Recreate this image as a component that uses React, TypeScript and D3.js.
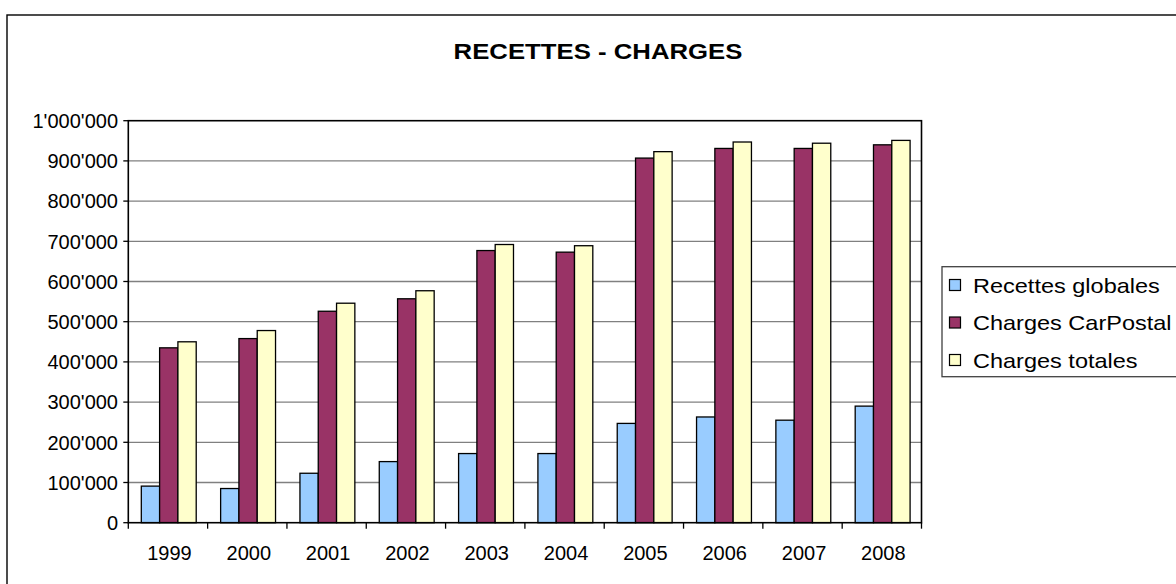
import React from 'react';
import * as d3 from 'd3';

const years = ['1999', '2000', '2001', '2002', '2003', '2004', '2005', '2006', '2007', '2008'];
const seriesNames = ['Recettes globales', 'Charges CarPostal', 'Charges totales'];
const seriesColors = ['#99CCFF', '#993366', '#FFFFCC'];

const recettesGlobales = [91000, 85000, 123000, 152000, 172000, 172000, 247000, 263000, 255000, 290000];
const chargesCarPostal = [435000, 458000, 526000, 557000, 677000, 673000, 907000, 931000, 931000, 940000];
const chargesTotales = [450000, 478000, 546000, 577000, 692000, 689000, 923000, 947000, 944000, 951000];

const yTicks = [0, 100000, 200000, 300000, 400000, 500000, 600000, 700000, 800000, 900000, 1000000];

const W = 1176;
const H = 584;
const plot = { left: 128.3, right: 921.5, top: 120.7, bottom: 522.7 };
const FONT = 'Liberation Sans, Arial, sans-serif';

// Swiss thousands separator: 1'000'000
const fmt = (v: number) => d3.format(',')(v).replace(/,/g, "'");

export default function App() {
  const values = [recettesGlobales, chargesCarPostal, chargesTotales];

  const x0 = d3.scaleBand<string>().domain(years).range([plot.left, plot.right]).padding(0);
  const barW = 18.3;
  const gap = x0.bandwidth() - barW * seriesNames.length;
  const x1 = d3
    .scaleBand<string>()
    .domain(seriesNames)
    .range([gap / 2 + 0.8, x0.bandwidth() - gap / 2 + 0.8])
    .padding(0);
  const y = d3.scaleLinear().domain([0, 1000000]).range([plot.bottom, plot.top]);

  const boundaries = d3.range(years.length + 1).map(i => plot.left + i * x0.bandwidth());

  return (
    <div style={{ position: 'absolute', left: 0, top: 0 }}>
      <svg width={W} height={H} style={{ display: 'block', background: '#fff' }}>
        {/* outer chart frame */}
        <rect x={7} y={15} width={W + 20} height={H + 20} fill="#fff" stroke="#000" strokeWidth={1.4} />

        {/* title */}
        <text
          transform={`translate(598,58.5) scale(1.17,1)`}
          textAnchor="middle"
          fontFamily={FONT}
          fontWeight="bold"
          fontSize={22}
          fill="#000"
        >
          RECETTES - CHARGES
        </text>

        {/* gridlines */}
        {yTicks.slice(1, -1).map(t => (
          <line key={t} x1={plot.left} x2={plot.right} y1={y(t)} y2={y(t)} stroke="#808080" strokeWidth={1.3} />
        ))}

        {/* bars */}
        {years.map((yr, i) => (
          <g key={yr} transform={`translate(${x0(yr)},0)`}>
            {seriesNames.map((s, j) => (
              <rect
                key={s}
                x={x1(s)}
                y={y(values[j][i])}
                width={x1.bandwidth()}
                height={y(0) - y(values[j][i])}
                fill={seriesColors[j]}
                stroke="#000"
                strokeWidth={1.3}
              />
            ))}
          </g>
        ))}

        {/* plot border */}
        <rect
          x={plot.left}
          y={plot.top}
          width={plot.right - plot.left}
          height={plot.bottom - plot.top}
          fill="none"
          stroke="#000"
          strokeWidth={1.6}
        />

        {/* y axis ticks and labels */}
        {yTicks.map(t => (
          <g key={t}>
            <line x1={plot.left - 5} x2={plot.left} y1={y(t)} y2={y(t)} stroke="#000" strokeWidth={1.3} />
            <text
              x={118}
              y={y(t)}
              dy="0.36em"
              textAnchor="end"
              fontFamily={FONT}
              fontSize={20}
              fill="#000"
            >
              {fmt(t)}
            </text>
          </g>
        ))}

        {/* x axis ticks and labels */}
        {boundaries.map((b, i) => (
          <line key={i} x1={b} x2={b} y1={plot.bottom} y2={plot.bottom + 6} stroke="#000" strokeWidth={1.3} />
        ))}
        {years.map(yr => (
          <text
            key={yr}
            x={(x0(yr) as number) + x0.bandwidth() / 2 + 1.5}
            y={560}
            textAnchor="middle"
            fontFamily={FONT}
            fontSize={20}
            fill="#000"
          >
            {yr}
          </text>
        ))}

        {/* legend */}
        <g>
          <rect x={942} y={266.7} width={260} height={110} fill="#fff" stroke="#404040" strokeWidth={1.3} />
          {seriesNames.map((s, j) => {
            const cy = 285 + j * 37.5;
            return (
              <g key={s}>
                <rect x={949.5} y={cy - 5.5} width={11} height={11} fill={seriesColors[j]} stroke="#000" strokeWidth={1.2} />
                <text
                  transform={`translate(973,${cy + 7.5}) scale(1.12,1)`}
                  fontFamily={FONT}
                  fontSize={21}
                  fill="#000"
                >
                  {s}
                </text>
              </g>
            );
          })}
        </g>
      </svg>
    </div>
  );
}
